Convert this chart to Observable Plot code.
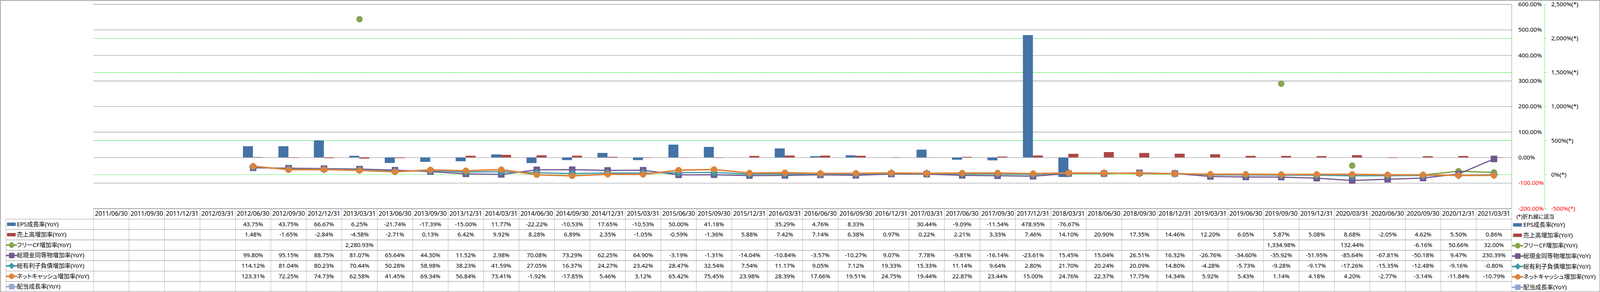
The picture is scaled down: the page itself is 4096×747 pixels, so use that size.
<!DOCTYPE html>
<html><head><meta charset="utf-8">
<script src="https://cdn.jsdelivr.net/npm/d3@7"></script>
<script src="https://cdn.jsdelivr.net/npm/@observablehq/plot@0.6"></script>
<style>
html,body{margin:0;padding:0;background:#fff}
#chart{position:relative;width:4096px;height:747px;overflow:hidden;background:#fff}
#chart svg{position:absolute;left:0;top:0;font-feature-settings:"palt" 1}
#chart svg text{font-feature-settings:"palt" 1}
</style></head><body><div id="chart"></div>
<script>
const N = null;
const dates = ["2011/06/30","2011/09/30","2011/12/31","2012/03/31","2012/06/30","2012/09/30","2012/12/31","2013/03/31","2013/06/30","2013/09/30","2013/12/31","2014/03/31","2014/06/30","2014/09/30","2014/12/31","2015/03/31","2015/06/30","2015/09/30","2015/12/31","2016/03/31","2016/06/30","2016/09/30","2016/12/31","2017/03/31","2017/06/30","2017/09/30","2017/12/31","2018/03/31","2018/06/30","2018/09/30","2018/12/31","2019/03/31","2019/06/30","2019/09/30","2019/12/31","2020/03/31","2020/06/30","2020/09/30","2020/12/31","2021/03/31"];
const epsGrowth = [N,N,N,N,43.75,43.75,66.67,6.25,-21.74,-17.39,-15.00,11.77,-22.22,-10.53,17.65,-10.53,50.00,41.18,N,35.29,4.76,8.33,N,30.44,-9.09,-11.54,478.95,-76.67,N,N,N,N,N,N,N,N,N,N,N,N];
const salesGrowth = [N,N,N,N,1.48,-1.65,-2.84,-4.58,-2.71,0.13,6.42,9.92,8.28,6.89,2.35,-1.05,-0.59,-1.36,5.88,7.42,7.14,6.38,0.97,0.22,2.21,3.33,7.46,14.10,20.90,17.35,14.46,12.20,6.05,5.87,5.08,8.68,-2.05,4.62,5.50,0.86];
const fcfGrowth = [N,N,N,N,N,N,N,2280.93,N,N,N,N,N,N,N,N,N,N,N,N,N,N,N,N,N,N,N,N,N,N,N,N,N,1334.98,N,132.44,N,-6.16,50.66,32.00];
const cashGrowth = [N,N,N,N,99.80,95.15,88.75,81.07,65.64,44.30,11.52,2.98,70.08,73.29,62.25,64.90,-3.19,-1.31,-14.04,-10.84,-3.57,-10.27,9.07,7.78,-9.81,-16.14,-23.61,15.45,15.04,26.51,16.32,-26.76,-34.60,-35.92,-51.95,-85.64,-67.81,-50.18,9.47,230.39];
const debtGrowth = [N,N,N,N,114.12,81.04,80.23,70.44,50.28,58.98,38.23,41.59,27.05,16.37,24.27,23.42,28.47,32.54,7.54,11.17,9.05,7.12,19.33,15.33,11.14,9.64,2.80,21.70,20.24,20.09,14.80,-4.28,-5.73,-9.28,-9.17,-17.26,-15.35,-12.48,-9.16,-0.80];
const netCashGrowth = [N,N,N,N,123.31,72.25,74.73,62.58,41.45,69.34,56.84,73.41,-1.92,-17.85,5.46,3.12,65.42,75.45,23.98,28.39,17.66,19.51,24.75,19.44,22.87,23.44,15.00,24.76,22.37,17.75,14.34,5.92,5.43,1.14,4.18,4.20,-2.77,-3.14,-11.84,-10.79];
const dividendGrowth = [N,N,N,N,N,N,N,N,N,N,N,N,N,N,N,N,N,N,N,N,N,N,N,N,N,N,N,N,N,N,N,N,N,N,N,N,N,N,N,N];

const seriesNames = ["EPS成長率(YoY)","売上高増加率(YoY)","フリーCF増加率(YoY)","総現金同等物増加率(YoY)","総有利子負債増加率(YoY)","ネットキャッシュ増加率(YoY)","配当成長率(YoY)"];
const seriesValues = [epsGrowth, salesGrowth, fcfGrowth, cashGrowth, debtGrowth, netCashGrowth, dividendGrowth];
const seriesColors = ["#4572A7","#AA4643","#89A54E","#71588F","#4198AF","#DB843D","#93A9CF"];
const seriesKinds = ["bar","bar","line","line","line","line","line"];
const seriesSymbols = [null,null,"circle","square","diamond2","circle","square"];
const primaryTicks = [-200,-100,0,100,200,300,400,500,600];
const secondaryTicks = [-500,0,500,1000,1500,2000,2500];
const noteText = "(*)折れ線に該当";

// ---- layout (reference px * S) ----
const S = 4096/7052;
const W = 4096, H = 747;
const PL = 411.7*S, PR = 6662*S, PT = 18.3*S, PB = 918.3*S, TB = 1284.7*S;
const BW = (PR-PL)/dates.length;
const BAR = 44*S;
const FONT = '"Noto Sans","Noto Sans CJK JP",sans-serif';
const GREEN = "#00e400";
const GAX = 6807.3*S;

const pct2 = v => (v<0?"-":"") + d3.format(",.2f")(Math.abs(v)) + "%";
const secFmt = v => (v<0?"-":"") + d3.format(",")(Math.abs(v)) + "%(*)";

const rows = dates.map((d,i)=>{
  const o = {date:d, i};
  seriesValues.forEach((arr,k)=>{o["s"+k] = arr[i];});
  return o;
});

const style = {background:"transparent", fontFamily:FONT, color:"#000", overflow:"visible"};
const common = {width:W, height:H, marginLeft:PL, marginRight:W-PR, marginTop:PT, marginBottom:H-PB, style,
  x:{type:"band", domain:dates, padding:0, round:false, axis:null}};

// ---- table layer ----
const cells = [];
seriesValues.forEach((arr,k)=>arr.forEach((v,i)=>{ if (v!=null) cells.push({i,k,v}); }));
const tableMarks = [
  Plot.frame({stroke:"#8f8f8f", strokeWidth:1.6, inset:0.8}),
  Plot.ruleX(dates.map((d,i)=>i).concat([dates.length]), {x:d=>d, y1:0, y2:8, stroke:"#a8a8a8", strokeWidth:0.9}),
  Plot.ruleX([0], {x:d=>d, y1:1, y2:8, dx:(25.7-411.7)*S, stroke:"#a8a8a8", strokeWidth:0.9}),
  Plot.ruleY([0], {y:d=>d, x1:0, x2:dates.length, stroke:"#999", strokeWidth:1.2}),
  Plot.ruleY(seriesNames.map((d,k)=>k+1), {y:d=>d, x1:0, x2:dates.length, insetLeft:-(PL-25.7*S), stroke:"#999", strokeWidth:1.2}),
  Plot.text(dates, {x:(d,i)=>i+0.5, y:()=>0.5, text:d=>d, fontSize:15.7, fill:"#000"}),
  Plot.text(cells, {x:d=>d.i+0.5, y:d=>d.k+1.5, text:d=>pct2(d.v), fontSize:15.1, fill:"#000"}),
  Plot.text([noteText], {x:()=>dates.length, y:()=>0.5, dx:(6683-6662)*S, dy:7, text:d=>d, textAnchor:"start", fontSize:13.6, fill:"#000"})
];
// legends (left column inside table, and right of table)
const legendSides = [
  {anchor:0, sw1:31, sw2:69.3, ln1:28.3, ln2:72.7, mk:50.5, tx:73.3, dy:0},
  {anchor:dates.length, sw1:6669, sw2:6708, ln1:6666.7, ln2:6710.7, mk:6688.7, tx:6712.7, dy:1.5}
];
legendSides.forEach(side=>{
  const ax = side.anchor === 0 ? PL : PR;
  seriesNames.forEach((name,k)=>{
    const y = k+1.5;
    if (seriesKinds[k]==="bar") {
      tableMarks.push(Plot.ruleY([y], {y:d=>d, x1:side.anchor, x2:side.anchor, dy:side.dy,
        insetLeft:side.sw1*S-ax, insetRight:ax-side.sw2*S, stroke:seriesColors[k], strokeWidth:15*S}));
    } else {
      tableMarks.push(Plot.ruleY([y], {y:d=>d, x1:side.anchor, x2:side.anchor, dy:side.dy,
        insetLeft:side.ln1*S-ax, insetRight:ax-side.ln2*S, stroke:seriesColors[k], strokeWidth:3.9, strokeLinecap:"round"}));
      const sym = seriesSymbols[k];
      const r = sym==="circle" ? 6.7 : sym==="square" ? 7.3 : 6.9;
      tableMarks.push(Plot.dot([y], {x:()=>side.anchor, y:d=>d, dx:side.mk*S-ax, dy:side.dy, symbol:sym, r, fill:seriesColors[k], stroke:seriesColors[k], strokeWidth:1, strokeLinejoin:"round"}));
    }
    tableMarks.push(Plot.text([name], {x:()=>side.anchor, y:()=>y, dx:side.tx*S-ax, dy:side.dy, text:d=>d, textAnchor:"start", fontSize:15.3, fill:"#000"}));
  });
});
const tablePlot = Plot.plot({width:W, height:H, margin:0, style,
  x:{type:"linear", domain:[0,dates.length], range:[PL,PR], axis:null},
  y:{type:"linear", domain:[0,8], range:[PB,TB], axis:null},
  marks:tableMarks});

// ---- secondary gridlines (behind bars) ----
const toPrimary = v => -200 + (v+500)*800/3000;
const secGrid = Plot.plot({...common, y:{domain:[-500,2500], range:[PB,PT], axis:null}, marks:[
  Plot.ruleY(secondaryTicks.filter(v=>!Number.isInteger(Math.round(toPrimary(v)*1000)/100000)), {y:d=>d, stroke:GREEN, strokeWidth:1.1, strokeDasharray:"3.2,1.7"})
]});

// ---- primary layer: gridlines, bars, primary axis ----
const primaryPlot = Plot.plot({...common, y:{domain:[-200,600], range:[PB,PT], axis:null}, marks:[
  Plot.ruleY(primaryTicks, {y:d=>d, stroke:"#8a8a8a", strokeWidth:1.1}),
  Plot.ruleX([dates[dates.length-1]], {x:d=>d, y1:-200, y2:600, dx:BW/2, stroke:"#999", strokeWidth:1.1}),
  Plot.barY(rows.filter(d=>d.s0!=null), {x:"date", y:"s0", fill:seriesColors[0], insetLeft:BW/2-BAR, insetRight:BW/2}),
  Plot.barY(rows.filter(d=>d.s1!=null), {x:"date", y:"s1", fill:seriesColors[1], insetLeft:BW/2, insetRight:BW/2-BAR}),
  Plot.text(primaryTicks.filter(v=>v>=0), {y:d=>d, text:pct2, frameAnchor:"right", dx:(6690.7-6662)*S, textAnchor:"start", fontSize:15.3, fill:"#000"}),
  Plot.text(primaryTicks.filter(v=>v<0), {y:d=>d, text:pct2, frameAnchor:"right", dx:(6690.7-6662)*S, textAnchor:"start", fontSize:15.3, fill:"#ff0000"})
]});

// ---- secondary layer: lines, markers, secondary axis ----
const lineMarks = [];
const lineWidths = {2:3.6, 3:3.0, 4:3.0, 5:3.9, 6:3.0};
const markerR = {circle:7.8, square:8.8, diamond2:9.4};
seriesNames.forEach((name,k)=>{
  if (seriesKinds[k]!=="line") return;
  const key = "s"+k;
  lineMarks.push(Plot.line(rows, {x:"date", y:key, stroke:seriesColors[k], strokeWidth:lineWidths[k]}));
  lineMarks.push(Plot.dot(rows.filter(d=>d[key]!=null), {x:"date", y:key, symbol:seriesSymbols[k], r:markerR[seriesSymbols[k]], fill:seriesColors[k], stroke:seriesColors[k], strokeWidth:1, strokeLinejoin:"round"}));
});
const last = dates[dates.length-1];
const secPlot = Plot.plot({...common, y:{domain:[-500,2500], range:[PB,PT], axis:null}, marks:[
  ...lineMarks,
  Plot.ruleX([last], {x:d=>d, y1:-500, y2:2500, dx:GAX-(PR-BW/2), stroke:GREEN, strokeWidth:1.1, strokeDasharray:"2,1.6"}),
  Plot.tickY(secondaryTicks, {y:d=>d, x:()=>last, dx:GAX-(PR-BW), insetRight:BW-10*S, stroke:GREEN, strokeWidth:1.1, strokeDasharray:"2,1.6"}),
  Plot.text(secondaryTicks.filter(v=>v>=0), {y:d=>d, text:secFmt, frameAnchor:"right", dx:(6836-6662)*S, textAnchor:"start", fontSize:15.3, fill:"#000"}),
  Plot.text(secondaryTicks.filter(v=>v<0), {y:d=>d, text:secFmt, frameAnchor:"right", dx:(6836-6662)*S, textAnchor:"start", fontSize:15.3, fill:"#ff0000"})
]});

const host = document.getElementById("chart");
[tablePlot, secGrid, primaryPlot, secPlot].forEach(p=>host.appendChild(p));
</script>
</body></html>
